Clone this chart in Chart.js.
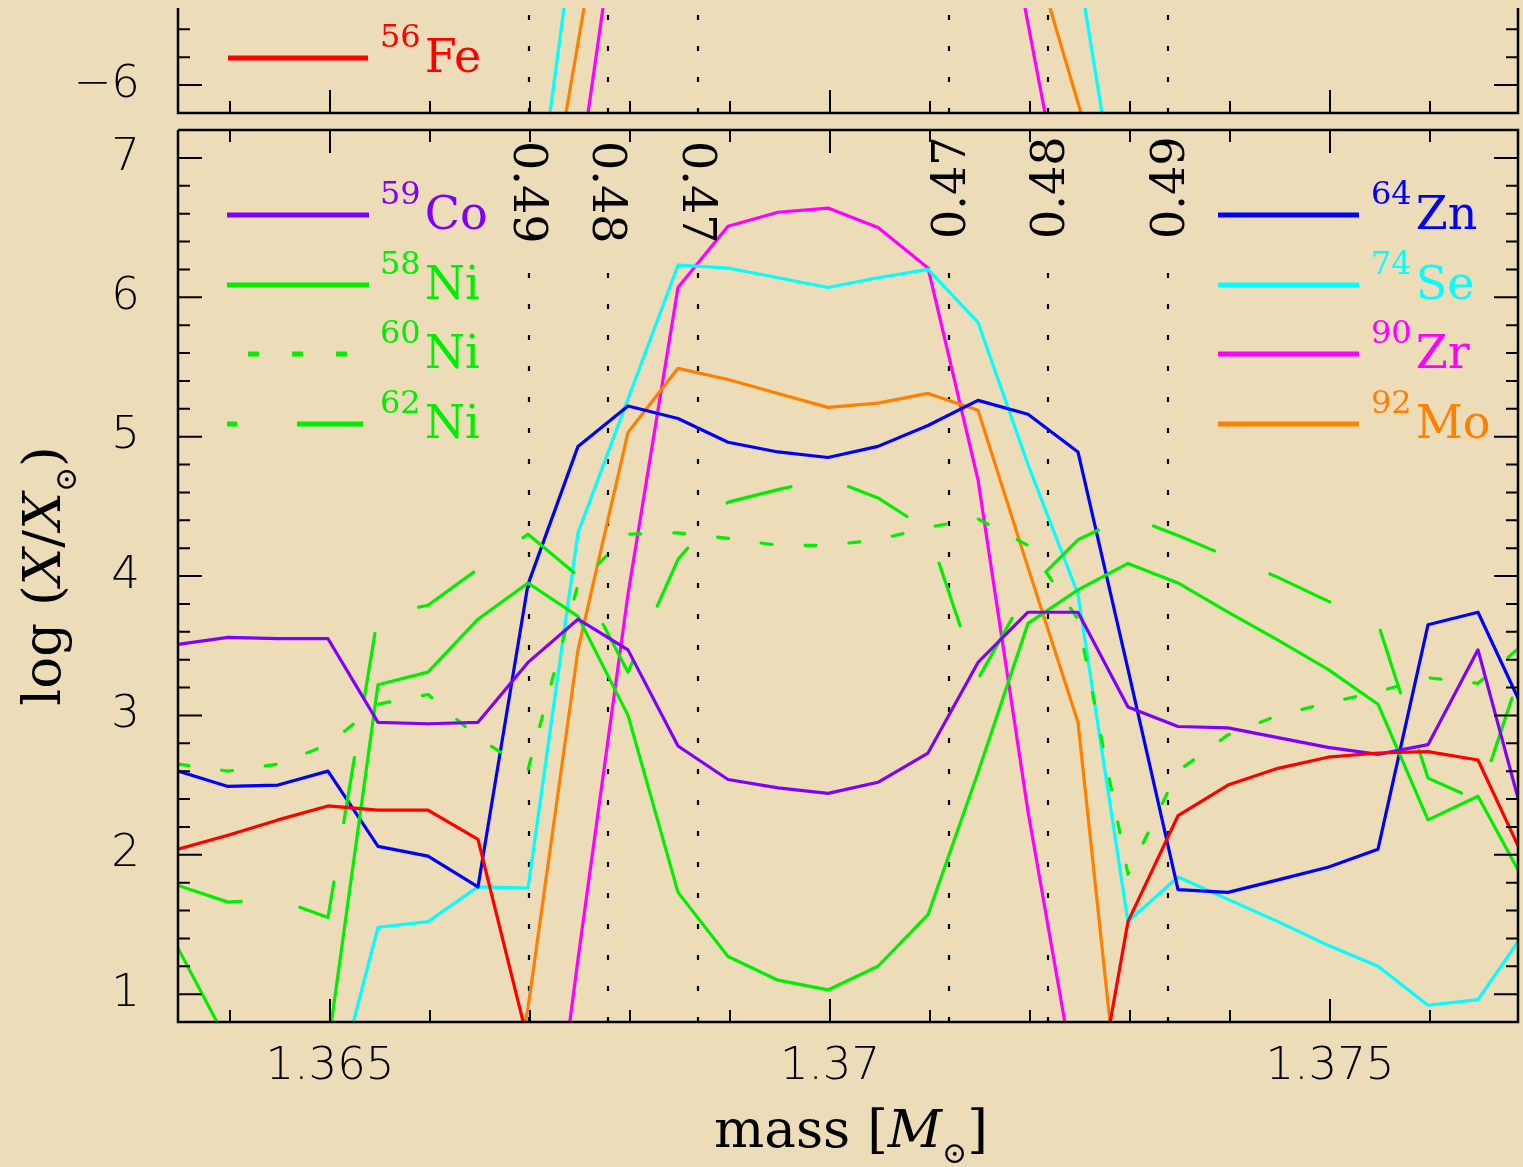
<!DOCTYPE html>
<html>
<head>
<meta charset="utf-8">
<script src="https://cdn.jsdelivr.net/npm/chart.js@4.4.1/dist/chart.umd.min.js"></script>
<style>
  html, body { margin: 0; padding: 0; background: #ecdcb8; }
  #wrap { position: relative; width: 1523px; height: 1167px; overflow: hidden; }
  canvas { position: absolute; left: 0; top: 0; }
</style>
</head>
<body>
<div id="wrap">
  <canvas id="grafico" width="1523" height="1167"></canvas>
  <canvas id="topo" width="1523" height="125"></canvas>
</div>
<script>
// Coordenada de massa das zonas do modelo
const massa = [1.36348, 1.36398, 1.36448, 1.36498, 1.36548, 1.36598, 1.36648, 1.36698, 1.36748, 1.36798,
  1.36848, 1.36898, 1.36948, 1.36998, 1.37048, 1.37098, 1.37148, 1.37198, 1.37248, 1.37298,
  1.37348, 1.37398, 1.37448, 1.37498, 1.37548, 1.37598, 1.37648, 1.37698];

// log(X/Xsol) de cada isótopo
const fe56 = [2.04, 2.14, 2.25, 2.35, 2.32, 2.32, 2.11, 0.66, 0.0, 0.0, 0.0, 0.0, 0.0, 0.0, 0.0, 0.0, 0.0, 0.0, -0.5, 1.52, 2.28, 2.50, 2.62, 2.70, 2.73, 2.74, 2.68, 1.91];
const co59 = [3.51, 3.56, 3.55, 3.55, 2.95, 2.94, 2.95, 3.38, 3.69, 3.47, 2.78, 2.54, 2.48, 2.44, 2.52, 2.73, 3.38, 3.74, 3.74, 3.06, 2.92, 2.91, 2.84, 2.77, 2.72, 2.79, 3.47, 2.14];
const ni58 = [1.33, 0.65, 0.3, 0.62, 3.22, 3.31, 3.69, 3.95, 3.71, 3.00, 1.73, 1.27, 1.10, 1.03, 1.20, 1.57, 2.59, 3.66, 3.90, 4.09, 3.95, 3.74, 3.54, 3.33, 3.08, 2.25, 2.42, 1.76];
const ni60 = [2.65, 2.60, 2.65, 2.79, 3.08, 3.15, 2.84, 2.61, 3.94, 4.30, 4.31, 4.27, 4.22, 4.22, 4.26, 4.35, 4.41, 4.22, 3.69, 1.86, 2.60, 2.86, 3.00, 3.09, 3.17, 3.27, 3.23, 3.54];
const ni62 = [1.78, 1.66, 1.68, 1.55, 3.72, 3.79, 4.05, 4.30, 4.00, 3.31, 4.12, 4.53, 4.62, 4.70, 4.56, 4.33, 3.26, 3.90, 4.26, 4.43, 4.29, 4.14, 3.99, 3.82, 3.66, 2.55, 2.39, 3.47];
const zn64 = [2.60, 2.49, 2.50, 2.60, 2.06, 1.99, 1.77, 3.94, 4.93, 5.22, 5.13, 4.96, 4.89, 4.85, 4.93, 5.08, 5.26, 5.16, 4.89, 3.33, 1.75, 1.73, 1.82, 1.91, 2.04, 3.65, 3.74, 2.97];
const se74 = [0.1, 0.1, 0.1, 0.1, 1.48, 1.52, 1.77, 1.76, 4.31, 5.27, 6.23, 6.21, 6.14, 6.07, 6.14, 6.20, 5.82, 4.80, 3.87, 1.52, 1.84, 1.68, 1.52, 1.35, 1.20, 0.92, 0.96, 1.48];
const zr90 = [-2, -2, -2, -2, -2, -2, -2, -1.5, 1.25, 3.87, 6.07, 6.51, 6.61, 6.64, 6.50, 6.21, 4.69, 2.31, 0.26, -1, -1, -1, -1, -1, -1, -1, -1, -1];
const mo92 = [-2, -2, -2, -2, -2, -2, -1, 0.9, 3.47, 5.03, 5.49, 5.41, 5.31, 5.21, 5.24, 5.31, 5.19, 4.06, 2.95, -0.41, -1, -1, -1, -1, -1, -1, -1, -1];

// Painel de cima: massas onde cada traço cruza o fundo e o topo
const topoNivel = [-6.2, -5.448];
const topoSeEsq = [1.36720, 1.36734];
const topoSeDir = [1.37272, 1.37255];
const topoMoEsq = [1.36736, 1.36754];
const topoMoDir = [1.37251, 1.37220];
const topoZrEsq = [1.36758, 1.36773];
const topoZrDir = [1.37215, 1.37195];

// Rótulos dos eixos
const xRotulos = [1.365, 1.37, 1.375];
const yRotulos = [1, 2, 3, 4, 5, 6, 7];
const yRotulosTopo = [-6];

// Linhas pontilhadas verticais
const marcasMassa = [1.36699, 1.36778, 1.36868, 1.37119, 1.37218, 1.37338];
const marcasRotulo = ['0.49', '0.48', '0.47', '0.47', '0.48', '0.49'];
const marcaInicio = 6.35;

const cores = {
  Fe: '#ff0000', Co: '#8000ff', Ni: '#00ee00', Zn: '#0000ff',
  Se: '#00ffff', Zr: '#ff00ff', Mo: '#ff8000'
};

const SERIF = '"DejaVu Serif", "Liberation Serif", serif';
const SANS = '"DejaVu Sans", "Liberation Sans", sans-serif';
const X_MIN = 1.36348, X_MAX = 1.37688;

function serie(vals) {
  return massa.map((m, i) => ({ x: m, y: vals[i] }));
}
function segmento(ms) {
  return ms.map((m, i) => ({ x: m, y: topoNivel[i] }));
}

const DASH60 = [11, 33];
const DASH62 = [66, 60];

const datasetsPrincipal = [
  { label: 'Fe56', data: serie(fe56), borderColor: cores.Fe },
  { label: 'Co59', data: serie(co59), borderColor: cores.Co },
  { label: 'Ni58', data: serie(ni58), borderColor: cores.Ni },
  { label: 'Ni60', data: serie(ni60), borderColor: cores.Ni, borderDash: DASH60 },
  { label: 'Ni62', data: serie(ni62), borderColor: cores.Ni, borderDash: DASH62 },
  { label: 'Zn64', data: serie(zn64), borderColor: cores.Zn },
  { label: 'Se74', data: serie(se74), borderColor: cores.Se },
  { label: 'Mo92', data: serie(mo92), borderColor: cores.Mo },
  { label: 'Zr90', data: serie(zr90), borderColor: cores.Zr }
];

const datasetsTopo = [
  { data: segmento(topoSeEsq), borderColor: cores.Se },
  { data: segmento(topoSeDir), borderColor: cores.Se },
  { data: segmento(topoMoEsq), borderColor: cores.Mo },
  { data: segmento(topoMoDir), borderColor: cores.Mo },
  { data: segmento(topoZrEsq), borderColor: cores.Zr },
  { data: segmento(topoZrDir), borderColor: cores.Zr }
];

// Itens da legenda (posição em pixels)
const legendaPrincipal = [
  { A: '59', el: 'Co', cor: cores.Co, x1: 227, x2: 369, tx: 380, y: 215 },
  { A: '58', el: 'Ni', cor: cores.Ni, x1: 227, x2: 369, tx: 380, y: 285 },
  { A: '60', el: 'Ni', cor: cores.Ni, x1: 227, x2: 369, tx: 380, y: 354, dash: DASH60, offset: 23 },
  { A: '62', el: 'Ni', cor: cores.Ni, x1: 227, x2: 369, tx: 380, y: 424, dash: DASH62, offset: 56 },
  { A: '64', el: 'Zn', cor: cores.Zn, x1: 1218, x2: 1359, tx: 1371, y: 215 },
  { A: '74', el: 'Se', cor: cores.Se, x1: 1218, x2: 1359, tx: 1371, y: 285 },
  { A: '90', el: 'Zr', cor: cores.Zr, x1: 1218, x2: 1359, tx: 1371, y: 354 },
  { A: '92', el: 'Mo', cor: cores.Mo, x1: 1218, x2: 1359, tx: 1371, y: 424 }
];
const legendaTopo = [
  { A: '56', el: 'Fe', cor: cores.Fe, x1: 228, x2: 368, tx: 380, y: 58 }
];

function desenhaLegenda(ctx, itens) {
  itens.forEach((it) => {
    ctx.save();
    ctx.strokeStyle = it.cor;
    ctx.lineWidth = 5;
    ctx.setLineDash(it.dash || []);
    ctx.lineDashOffset = it.offset || 0;
    ctx.beginPath();
    ctx.moveTo(it.x1, it.y);
    ctx.lineTo(it.x2, it.y);
    ctx.stroke();
    ctx.setLineDash([]);
    ctx.fillStyle = it.cor;
    ctx.textAlign = 'left';
    ctx.textBaseline = 'alphabetic';
    ctx.font = `32px ${SERIF}`;
    ctx.fillText(it.A, it.tx, it.y - 11);
    const w = ctx.measureText(it.A).width;
    ctx.font = `46px ${SERIF}`;
    ctx.fillText(it.el, it.tx + w + 4, it.y + 14);
    ctx.restore();
  });
}

function moldura(chart, comTopo) {
  const { ctx, chartArea: a, scales: { x, y } } = chart;
  ctx.save();
  ctx.strokeStyle = '#000';
  ctx.lineWidth = 2.5;
  ctx.beginPath();
  ctx.moveTo(a.left, a.top);
  ctx.lineTo(a.left, a.bottom);
  ctx.lineTo(a.right, a.bottom);
  ctx.lineTo(a.right, a.top);
  if (comTopo) ctx.lineTo(a.left, a.top);
  ctx.stroke();

  ctx.lineWidth = 2;
  ctx.beginPath();
  for (let i = 1364; i <= 1376; i++) {
    const px = x.getPixelForValue(i / 1000);
    const len = i % 5 === 0 ? 23 : 12;
    ctx.moveTo(px, a.bottom); ctx.lineTo(px, a.bottom - len);
    if (comTopo) { ctx.moveTo(px, a.top); ctx.lineTo(px, a.top + len); }
  }
  for (let j = Math.ceil(y.min * 5 - 1e-6); j <= Math.floor(y.max * 5 + 1e-6); j++) {
    const py = y.getPixelForValue(j / 5);
    if (py >= a.bottom - 2 || py <= a.top + 2) continue;
    const len = j % 5 === 0 ? 24 : 12;
    ctx.moveTo(a.left, py); ctx.lineTo(a.left + len, py);
    ctx.moveTo(a.right, py); ctx.lineTo(a.right - len, py);
  }
  ctx.stroke();
  ctx.restore();
}

function pontilhados(chart, inicio) {
  const { ctx, chartArea: a, scales: { x, y } } = chart;
  ctx.save();
  ctx.strokeStyle = '#000';
  ctx.lineWidth = 2.2;
  ctx.setLineDash([5, 26]);
  marcasMassa.forEach((m) => {
    const px = x.getPixelForValue(m);
    const y0 = inicio === null ? a.top : y.getPixelForValue(inicio);
    ctx.beginPath();
    ctx.moveTo(px, a.bottom);
    ctx.lineTo(px, y0);
    ctx.stroke();
  });
  ctx.restore();
}

function rotulosMarcas(chart) {
  const { ctx, chartArea: a, scales: { x } } = chart;
  ctx.save();
  ctx.fillStyle = '#000';
  ctx.font = `46px ${SERIF}`;
  ctx.textBaseline = 'middle';
  ctx.textAlign = 'left';
  marcasMassa.forEach((m, i) => {
    const px = x.getPixelForValue(m);
    ctx.save();
    if (px < (a.left + a.right) / 2) {
      ctx.translate(px - 3, 141);
      ctx.rotate(Math.PI / 2);
    } else {
      ctx.translate(px + 4, 239);
      ctx.rotate(-Math.PI / 2);
    }
    ctx.fillText(marcasRotulo[i], 0, 0);
    ctx.restore();
  });
  ctx.restore();
}

// Texto com partes em itálico / subscrito
function textoComposto(ctx, partes, cx, by) {
  let total = 0;
  partes.forEach((p) => { ctx.font = p.f; total += ctx.measureText(p.t).width; });
  let x = cx - total / 2;
  partes.forEach((p) => {
    ctx.font = p.f;
    ctx.fillText(p.t, x, by + (p.dy || 0));
    x += ctx.measureText(p.t).width;
  });
}

function titulos(chart) {
  const { ctx } = chart;
  ctx.save();
  ctx.fillStyle = '#000';
  ctx.textAlign = 'left';
  ctx.textBaseline = 'alphabetic';
  textoComposto(ctx, [
    { t: 'mass [', f: `53px ${SERIF}` },
    { t: 'M', f: `italic 53px ${SERIF}` },
    { t: '\u2299', f: `30px ${SERIF}`, dy: 16 },
    { t: ']', f: `53px ${SERIF}` }
  ], 851, 1147);

  ctx.translate(60, 576);
  ctx.rotate(-Math.PI / 2);
  textoComposto(ctx, [
    { t: 'log (', f: `53px ${SERIF}` },
    { t: 'X', f: `italic 53px ${SERIF}` },
    { t: '/', f: `53px ${SERIF}` },
    { t: 'X', f: `italic 53px ${SERIF}` },
    { t: '\u2299', f: `30px ${SERIF}`, dy: 16 },
    { t: ')', f: `53px ${SERIF}` }
  ], 0, 0);
  ctx.restore();
}

const fonteTicks = { family: SANS, size: 45, weight: '300' };

// largura fixa do eixo y, sem a margem extra que o Chart.js reserva para os rótulos
function eixoY(s) {
  s.width = 178;
  s.paddingTop = 0;
  s.paddingBottom = 0;
}

// Painel principal
const graficoPrincipal = new Chart(document.getElementById('grafico').getContext('2d'), {
  type: 'line',
  data: { datasets: datasetsPrincipal },
  options: {
    responsive: false,
    animation: false,
    events: [],
    layout: { padding: { top: 130, right: 5, left: 0, bottom: 0 } },
    elements: {
      point: { radius: 0 },
      line: { tension: 0, borderWidth: 3.2, borderCapStyle: 'round', borderJoinStyle: 'round' }
    },
    plugins: { legend: { display: false }, tooltip: { enabled: false } },
    scales: {
      x: {
        type: 'linear', min: X_MIN, max: X_MAX,
        afterBuildTicks: (s) => { s.ticks = xRotulos.map((v) => ({ value: v })); },
        afterFit: (s) => { s.height = 145; },
        grid: { display: false, drawTicks: false },
        border: { display: false },
        ticks: { callback: (v) => String(v), font: fonteTicks, color: '#000', padding: 18, maxRotation: 0, autoSkip: false }
      },
      y: {
        type: 'linear', min: 0.8, max: 7.2,
        afterBuildTicks: (s) => { s.ticks = yRotulos.map((v) => ({ value: v })); },
        afterFit: eixoY,
        grid: { display: false, drawTicks: false },
        border: { display: false },
        ticks: { callback: (v) => String(v), font: fonteTicks, color: '#000', padding: 38, autoSkip: false }
      }
    }
  },
  plugins: [{
    id: 'extras',
    beforeDatasetsDraw: (chart) => { pontilhados(chart, marcaInicio); },
    afterDatasetsDraw: (chart) => {
      moldura(chart, true);
      rotulosMarcas(chart);
      desenhaLegenda(chart.ctx, legendaPrincipal);
      titulos(chart);
    }
  }]
});

// Painel de cima (eixo y interrompido)
const graficoTopo = new Chart(document.getElementById('topo').getContext('2d'), {
  type: 'line',
  data: { datasets: datasetsTopo },
  options: {
    responsive: false,
    animation: false,
    events: [],
    layout: { padding: { top: 8, right: 5, left: 0, bottom: 12 } },
    elements: {
      point: { radius: 0 },
      line: { tension: 0, borderWidth: 3.2 }
    },
    plugins: { legend: { display: false }, tooltip: { enabled: false } },
    scales: {
      x: { type: 'linear', min: X_MIN, max: X_MAX, display: false },
      y: {
        type: 'linear', min: topoNivel[0], max: topoNivel[1],
        afterBuildTicks: (s) => { s.ticks = yRotulosTopo.map((v) => ({ value: v })); },
        afterFit: eixoY,
        grid: { display: false, drawTicks: false },
        border: { display: false },
        ticks: { callback: (v) => '\u2212' + Math.abs(v), font: fonteTicks, color: '#000', padding: 38, autoSkip: false }
      }
    }
  },
  plugins: [{
    id: 'extrasTopo',
    beforeDatasetsDraw: (chart) => { pontilhados(chart, null); },
    afterDatasetsDraw: (chart) => {
      moldura(chart, false);
      desenhaLegenda(chart.ctx, legendaTopo);
    }
  }]
});
</script>
</body>
</html>
